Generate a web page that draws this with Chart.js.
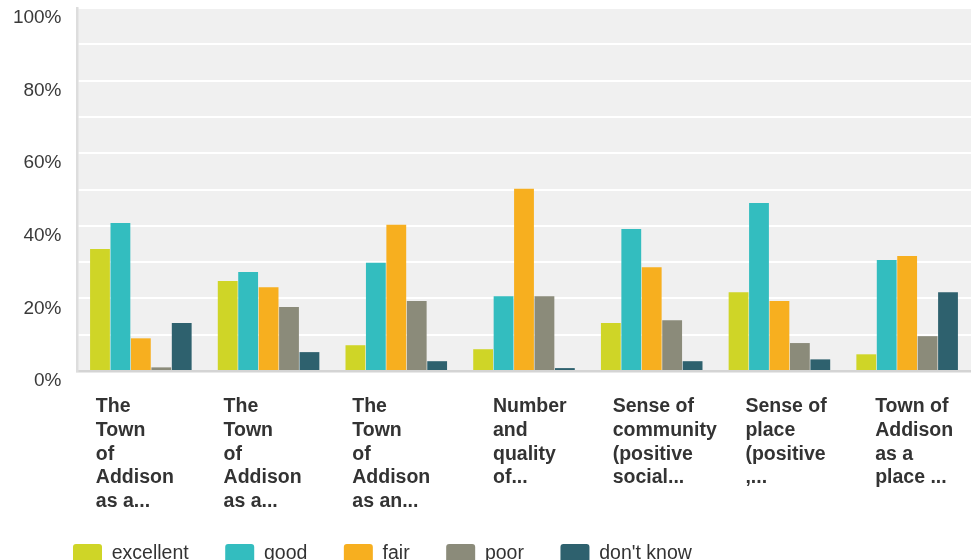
<!DOCTYPE html>
<html>
<head>
<meta charset="utf-8">
<script src="https://cdn.jsdelivr.net/npm/chart.js@4.4.1/dist/chart.umd.min.js"></script>
<style>
  html, body { margin: 0; padding: 0; background: #ffffff; }
  #wrap { width: 971px; height: 560px; position: relative; }
</style>
</head>
<body>
<div id="wrap"><canvas id="chart"></canvas></div>
<script>
// Question categories (wrapped onto several lines)
const categories = [
  ["The", "Town", "of", "Addison", "as a..."],
  ["The", "Town", "of", "Addison", "as a..."],
  ["The", "Town", "of", "Addison", "as an..."],
  ["Number", "and", "quality", "of..."],
  ["Sense of", "community", "(positive", "social..."],
  ["Sense of", "place", "(positive", ",..."],
  ["Town of", "Addison", "as a", "place ..."]
];

// Answer share per category, in percent
const excellent = [33.6, 24.8, 7.1, 6.0, 13.2, 21.7, 4.6];
const good      = [40.8, 27.3, 29.8, 20.6, 39.1, 46.3, 30.6];
const fair      = [9.0, 23.1, 40.3, 50.2, 28.6, 19.3, 31.7];
const poor      = [1.0, 17.6, 19.3, 20.6, 14.0, 7.7, 9.6];
const dontKnow  = [13.2, 5.2, 2.7, 0.8, 2.7, 3.2, 21.7];

const yTicks = [0, 20, 40, 60, 80, 100];

const seriesNames  = ["excellent", "good", "fair", "poor", "don't know"];
const seriesValues = [excellent, good, fair, poor, dontKnow];
const seriesColors = ["#CFD527", "#33BDBF", "#F7AF1F", "#8B8B7A", "#2E616E"];

// Horizontal nudge (px) for each category's wrapped label block
const labelNudge = [-3, -3, -2, 11, 3, 8, 10];

// Light grey panel behind the plot area
const plotBackground = {
  id: 'plotBackground',
  beforeDraw(chart) {
    const { ctx, chartArea: a } = chart;
    ctx.save();
    ctx.fillStyle = '#f0f0f0';
    ctx.fillRect(a.left, a.top, a.right - a.left, a.bottom - a.top);
    ctx.restore();
  }
};

// Indent the legend row so it starts under the plot
const legendIndent = {
  id: 'legendIndent',
  afterLayout(chart) {
    if (chart.legend) {
      chart.legend.left += 36.5;
      chart.legend.right += 36.5;
    }
  }
};

// Shift each category label block a little, left-aligned text
const labelShift = {
  id: 'labelShift',
  beforeDraw(chart) {
    const scale = chart.scales.x;
    if (!scale || !scale.getLabelItems) return;
    const items = scale.getLabelItems(chart.chartArea);
    items.forEach((item, i) => {
      if (!item._shifted) {
        item.options.translation[0] += labelNudge[i] || 0;
        item._shifted = true;
      }
    });
  }
};

const FONT = "'Liberation Sans', Arial, Helvetica, sans-serif";

new Chart(document.getElementById('chart'), {
  type: 'bar',
  data: {
    labels: categories,
    datasets: seriesNames.map((name, i) => ({
      label: name,
      data: seriesValues[i],
      backgroundColor: seriesColors[i],
      borderWidth: 0,
      categoryPercentage: 0.8,
      barPercentage: 0.97
    }))
  },
  options: {
    responsive: true,
    maintainAspectRatio: false,
    devicePixelRatio: 1,
    animation: false,
    layout: { padding: { left: 0, right: 0, top: 8, bottom: -14 } },
    plugins: {
      tooltip: { enabled: false },
      legend: {
        position: 'bottom',
        align: 'start',
        labels: {
          boxWidth: 29,
          boxHeight: 20,
          padding: 36.5,
          useBorderRadius: true,
          borderRadius: 3,
          color: '#333333',
          font: { family: FONT, size: 19.5 }
        }
      }
    },
    scales: {
      x: {
        afterFit(scale) {
          scale.height = 136.5;
          scale.paddingLeft = 0;
          scale.paddingRight = 0;
        },
        grid: { display: false, drawTicks: false },
        border: { display: true, color: '#d4d4d4', width: 2.5 },
        ticks: {
          autoSkip: false,
          maxRotation: 0,
          minRotation: 0,
          align: 'start',
          labelOffset: -42,
          padding: 24,
          color: '#333333',
          font: { family: FONT, size: 19.5, weight: 'bold', lineHeight: 1.215 }
        }
      },
      y: {
        min: 0,
        max: 100,
        afterFit(scale) {
          scale.width = 77;
          scale.paddingTop = 0;
          scale.paddingBottom = 0;
        },
        afterBuildTicks(scale) {
          scale.ticks = [];
          for (let v = 0; v <= 100; v += 10) scale.ticks.push({ value: v });
        },
        grid: { color: '#ffffff', lineWidth: 2, drawTicks: false },
        border: { display: true, color: '#dddddd', width: 2.5 },
        ticks: {
          padding: 15.5,
          labelOffset: 10,
          color: '#3a3a3a',
          font: { family: FONT, size: 19 },
          callback: (v) => yTicks.includes(v) ? v + '%' : ''
        }
      }
    }
  },
  plugins: [plotBackground, legendIndent, labelShift]
});
</script>
</body>
</html>
